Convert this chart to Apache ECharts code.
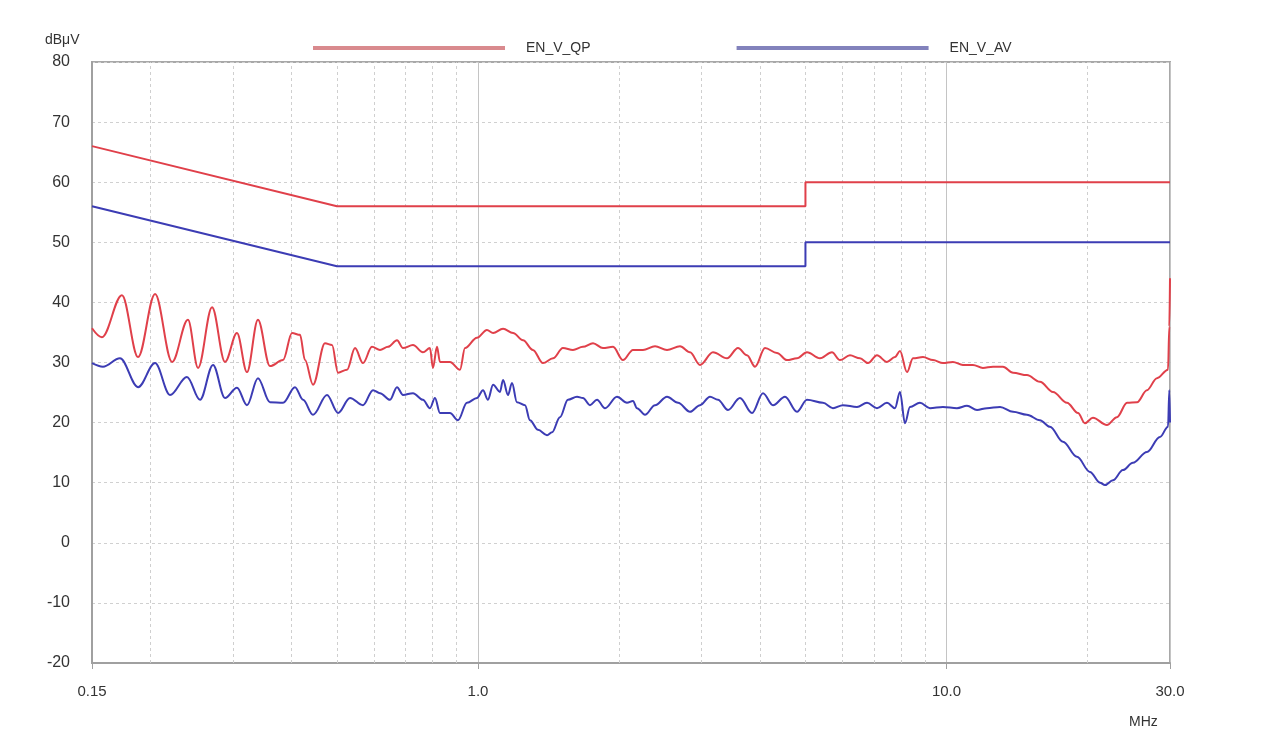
<!DOCTYPE html>
<html><head><meta charset="utf-8">
<script src="https://cdn.jsdelivr.net/npm/echarts@6/dist/echarts.min.js"></script>
<style>html,body{margin:0;padding:0;background:#fff}#c{width:1261px;height:742px}</style>
</head><body><div id="c"></div>
<script>
// Limit lines (MHz, dBµV)
const qpLimit = [[0.15,66],[0.5,56],[5,56],[5,60],[30,60]];
const avLimit = [[0.15,56],[0.5,46],[5,46],[5,50],[30,50]];

// Measured quasi-peak trace
const qpTrace = [
[0.150,35.7],[0.1575,34.2],[0.1738,41.2],[0.1881,30.9],[0.2045,41.4],[0.2223,30.1],[0.2404,37.1],[0.2526,29.1],
[0.2706,39.2],[0.2884,30.1],[0.3059,34.9],[0.3213,28.4],[0.3391,37.1],[0.3597,29.4],[0.3836,30.4],[0.4009,34.9],
[0.4170,34.6],[0.4273,30.4],[0.4445,26.3],[0.4714,33.2],[0.4880,32.9],[0.5026,28.3],[0.5253,28.8],[0.5464,32.4],
[0.5682,29.9],[0.5939,32.6],[0.6178,32.1],[0.6426,32.6],[0.6716,33.7],[0.6917,32.4],[0.7265,32.9],[0.7630,31.7],
[0.7897,32.4],[0.8014,29.1],[0.8175,32.6],[0.8296,30.1],[0.8714,30.1],[0.9154,28.8],[0.9382,32.4],[0.995,34.1],
[1.045,35.4],[1.077,34.9],[1.131,35.6],[1.188,34.9],[1.248,33.7],[1.310,32.1],[1.376,29.9],[1.446,30.7],
[1.518,32.4],[1.595,32.1],[1.675,32.6],[1.760,33.2],[1.848,32.4],[1.942,32.6],[2.039,30.4],[2.142,32.1],
[2.250,32.1],[2.387,32.7],[2.532,32.1],[2.699,32.7],[2.835,31.7],[2.978,29.6],[3.174,31.7],[3.401,30.7],
[3.589,32.4],[3.751,31.2],[3.903,29.3],[4.099,32.4],[4.347,31.6],[4.566,30.4],[4.796,30.7],[5.038,31.7],
[5.370,30.7],[5.696,31.7],[5.925,30.4],[6.223,31.2],[6.537,30.7],[6.800,29.9],[7.107,31.2],[7.464,30.1],
[7.764,30.9],[7.957,31.9],[8.236,28.4],[8.483,30.7],[8.910,30.9],[9.359,30.4],[9.829,29.9],[10.32,30.1],
[10.84,29.6],[11.39,29.6],[11.96,29.1],[12.57,29.3],[13.20,29.3],[13.87,28.3],[14.85,27.9],[15.83,26.8],
[16.88,25.1],[18.08,23.3],[19.09,21.6],[19.75,19.9],[20.54,20.8],[22.00,19.6],[23.11,20.9],[24.29,23.3],
[25.51,23.4],[26.79,25.4],[28.14,27.4],[29.71,28.8],[29.9,36.0],[30.0,44.0]
];

// Measured average trace
const avTrace = [
[0.150,29.9],[0.1583,29.3],[0.1721,30.7],[0.1881,25.9],[0.2045,29.9],[0.2201,24.6],[0.2392,27.6],[0.2551,23.8],
[0.2719,29.6],[0.2884,24.1],[0.3059,25.8],[0.3213,22.9],[0.3391,27.4],[0.3597,23.4],[0.3836,23.3],[0.4068,25.9],
[0.4232,23.8],[0.4445,21.3],[0.4761,24.6],[0.5026,21.6],[0.5331,24.1],[0.5682,22.9],[0.5969,25.4],[0.6178,24.9],
[0.6490,23.8],[0.6716,25.9],[0.6917,24.6],[0.7265,24.9],[0.7630,23.8],[0.7897,22.4],[0.8094,24.1],[0.8296,21.6],
[0.8714,21.6],[0.9064,20.4],[0.9474,23.3],[0.995,24.1],[1.025,25.4],[1.050,23.8],[1.077,26.3],[1.114,25.1],
[1.131,27.1],[1.159,24.6],[1.182,26.6],[1.211,23.4],[1.260,22.9],[1.291,20.4],[1.343,18.8],[1.404,17.9],
[1.439,18.4],[1.496,20.9],[1.556,23.8],[1.627,24.3],[1.675,24.1],[1.734,22.9],[1.795,23.8],[1.867,22.4],
[1.980,24.3],[2.080,23.3],[2.142,23.6],[2.185,22.4],[2.272,21.3],[2.387,22.9],[2.532,24.3],[2.673,23.3],
[2.835,21.8],[2.978,22.9],[3.128,24.3],[3.253,23.8],[3.417,22.1],[3.624,24.1],[3.845,21.6],[4.058,24.9],
[4.263,22.9],[4.522,24.3],[4.796,21.8],[5.038,23.8],[5.450,23.3],[5.724,22.4],[6.012,22.9],[6.442,22.6],
[6.767,23.3],[7.107,22.4],[7.464,23.3],[7.764,22.4],[7.957,25.1],[8.155,19.9],[8.358,22.6],[8.778,23.3],
[9.222,22.4],[9.829,22.6],[10.53,22.4],[11.06,22.8],[11.62,22.1],[12.20,22.4],[13.01,22.6],[13.87,21.8],
[14.85,21.3],[15.83,20.4],[16.63,19.3],[17.73,16.8],[18.99,14.3],[20.24,11.8],[21.27,10.0],[21.79,9.6],
[22.66,10.4],[23.80,12.1],[25.00,13.3],[26.79,15.1],[28.55,17.6],[29.71,19.3],[29.9,25.4],[30.0,20.0]
];

// Axis settings
const xMin = 0.15, xMax = 30;
const yMin = -20, yMax = 80, yStep = 10;
const minorGrid = [0.2,0.3,0.4,0.5,0.6,0.7,0.8,0.9,2,3,4,5,6,7,8,9,20];
const seriesNames = ['EN_V_QP','EN_V_AV'];

const RED = '#e0404a', BLUE = '#3c3cb4';
const FONT = 'Liberation Sans, Arial, sans-serif';

const chart = echarts.init(document.getElementById('c'), null, {renderer:'canvas'});
chart.setOption({
  animation:false,
  backgroundColor:'#fff',
  textStyle:{fontFamily:FONT},
  legend:{
    data:[
      {name:seriesNames[0], itemStyle:{color:'#d98a8e'}},
      {name:seriesNames[1], itemStyle:{color:'#8282bc'}}
    ],
    icon:'rect', itemWidth:192, itemHeight:4, itemGap:146,
    left:308, top:36,
    textStyle:{fontSize:14, color:'#333', padding:[0,0,0,16]}
  },
  grid:{left:92, right:91, top:62, bottom:79, show:true, borderColor:'#a8a8a8', borderWidth:2, backgroundColor:'transparent'},
  xAxis:{
    type:'log', logBase:10, min:xMin, max:xMax,
    axisLine:{show:true, onZero:false, lineStyle:{color:'#a0a0a0', width:2}},
    axisTick:{show:true, length:6, lineStyle:{color:'#a0a0a0'}},
    minorTick:{show:false},
    splitLine:{show:true, lineStyle:{color:'#c4c4c4', width:1}},
    axisLabel:{show:true, showMinLabel:true, showMaxLabel:true, margin:21, fontSize:15, color:'#333',
      formatter:function(v){ return v < 0.9 ? Number(v).toFixed(2) : Number(v).toFixed(1); }}
  },
  yAxis:{
    type:'value', min:yMin, max:yMax, interval:yStep,
    axisLine:{show:true, onZero:false, lineStyle:{color:'#a0a0a0', width:2}},
    axisTick:{show:false},
    splitLine:{show:true, lineStyle:{color:'#d0d0d0', width:1, type:[3,3]}},
    axisLabel:{margin:22, fontSize:16, color:'#333'}
  },
  graphic:[
    {type:'text', left:45, top:33, style:{text:'dBμV', fontSize:14, fill:'#333', fontFamily:FONT}},
    {type:'text', left:1129, top:715, style:{text:'MHz', fontSize:14, fill:'#333', fontFamily:FONT}}
  ],
  series:[
    {type:'line', name:'grid', data:[], silent:true, z:1,
      markLine:{silent:true, symbol:'none', label:{show:false}, z:1,
        lineStyle:{color:'#cfcfcf', width:1, type:[3,3]},
        data:minorGrid.map(v=>({xAxis:v}))}},
    {type:'line', name:'EN_V_QP', data:qpLimit, showSymbol:false, lineStyle:{color:RED, width:2}, itemStyle:{color:RED}, z:3},
    {type:'line', name:'EN_V_AV', data:avLimit, showSymbol:false, lineStyle:{color:BLUE, width:2}, itemStyle:{color:BLUE}, z:3},
    {type:'line', name:'QP', data:qpTrace, showSymbol:false, smooth:0.35, smoothMonotone:'x', lineStyle:{color:RED, width:2}, itemStyle:{color:RED}, z:4},
    {type:'line', name:'AV', data:avTrace, showSymbol:false, smooth:0.35, smoothMonotone:'x', lineStyle:{color:BLUE, width:2}, itemStyle:{color:BLUE}, z:4}
  ]
});
</script>
</body></html>
